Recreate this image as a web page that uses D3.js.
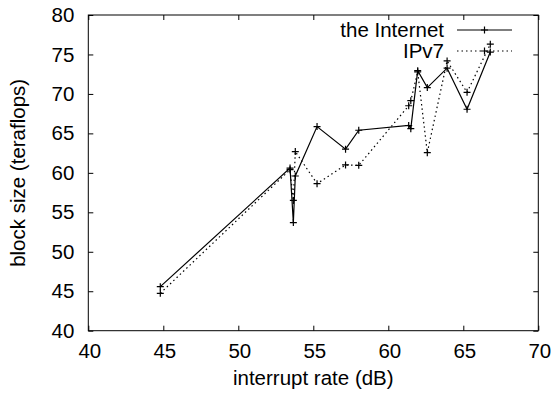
<!DOCTYPE html>
<html>
<head>
<meta charset="utf-8">
<script src="https://cdn.jsdelivr.net/npm/d3@7"></script>
<style>
  body { margin: 0; background: #fff; }
  text { font-family: "Liberation Sans", Arial, sans-serif; fill: #000; }
</style>
</head>
<body>
<div id="chart"></div>
<script>
// data
var rateX = [44.8, 53.45, 53.67, 53.8, 55.25, 57.15, 58.03, 61.36, 61.5, 61.96, 62.6, 63.92, 65.25, 66.8];
var internetY = [45.58, 60.6, 53.7, 59.6, 65.86, 63.0, 65.4, 66.0, 65.6, 72.95, 70.8, 73.26, 68.06, 75.3];
var ipv7Y = [44.74, 60.4, 56.5, 62.7, 58.63, 61.0, 60.95, 68.5, 69.15, 72.8, 62.56, 74.18, 70.2, 76.3];
var seriesNames = ["the Internet", "IPv7"];
var xTicks = [40, 45, 50, 55, 60, 65, 70];
var yTicks = [40, 45, 50, 55, 60, 65, 70, 75, 80];

var width = 554, height = 394;
var margin = {left: 88.3, right: 15.7, top: 15, bottom: 63.3};
var fontSize = "20.5px";

var svg = d3.select("#chart")
    .append("svg")
    .attr("width", width)
    .attr("height", height);

var x = d3.scaleLinear().domain([40, 70]).range([margin.left, width - margin.right]);
var y = d3.scaleLinear().domain([40, 80]).range([height - margin.bottom, margin.top]);

// ticks on all four sides, pointing inward
svg.append("g")
    .attr("transform", "translate(0," + y(40) + ")")
    .call(d3.axisBottom(x).tickValues(xTicks).tickSizeInner(-5).tickSizeOuter(0).tickPadding(12))
    .call(g => g.select(".domain").remove())
    .selectAll("text").style("font-size", fontSize).attr("dy", "0.75em").attr("dx", "1");

svg.append("g")
    .attr("transform", "translate(0," + y(80) + ")")
    .call(d3.axisTop(x).tickValues(xTicks).tickSizeInner(-5).tickSizeOuter(0).tickFormat(""))
    .call(g => g.select(".domain").remove());

svg.append("g")
    .attr("transform", "translate(" + x(40) + ",0)")
    .call(d3.axisLeft(y).tickValues(yTicks).tickSizeInner(-5).tickSizeOuter(0).tickPadding(14))
    .call(g => g.select(".domain").remove())
    .selectAll("text").style("font-size", fontSize);

svg.append("g")
    .attr("transform", "translate(" + x(70) + ",0)")
    .call(d3.axisRight(y).tickValues(yTicks).tickSizeInner(-5).tickSizeOuter(0).tickFormat(""))
    .call(g => g.select(".domain").remove());

svg.selectAll(".tick line").attr("stroke", "#000");

// frame
svg.append("rect")
    .attr("x", x(40))
    .attr("y", y(80))
    .attr("width", x(70) - x(40))
    .attr("height", y(40) - y(80))
    .attr("fill", "none")
    .attr("stroke", "#000")
    .attr("stroke-width", 1);

// axis titles
svg.append("text")
    .attr("x", (x(40) + x(70)) / 2)
    .attr("y", 385)
    .attr("text-anchor", "middle")
    .style("font-size", fontSize)
    .text("interrupt rate (dB)");

svg.append("text")
    .attr("transform", "translate(25," + ((y(40) + y(80)) / 2) + ") rotate(-90)")
    .attr("text-anchor", "middle")
    .style("font-size", fontSize)
    .text("block size (teraflops)");

// series
var series = [
    {name: seriesNames[0], values: internetY, dash: null},
    {name: seriesNames[1], values: ipv7Y, dash: "1.5,3"}
];

var line = d3.line()
    .x((d, i) => x(rateX[i]))
    .y(d => y(d));

function plus(g, cx, cy) {
    g.append("path")
        .attr("d", "M" + (cx - 3.5) + "," + cy + "h7M" + cx + "," + (cy - 3.5) + "v7")
        .attr("stroke", "#000")
        .attr("stroke-width", 1.2);
}

series.forEach((s, k) => {
    var g = svg.append("g");
    g.append("path")
        .datum(s.values)
        .attr("d", line)
        .attr("fill", "none")
        .attr("stroke", "#000")
        .attr("stroke-width", 1.2)
        .attr("stroke-dasharray", s.dash);
    s.values.forEach((v, i) => plus(g, x(rateX[i]), y(v)));

    // legend entry
    var ly = 30 + k * 21;
    svg.append("text")
        .attr("x", 444)
        .attr("y", ly)
        .attr("text-anchor", "end")
        .attr("dy", "0.35em")
        .style("font-size", fontSize)
        .text(s.name);
    svg.append("line")
        .attr("x1", 457).attr("x2", 512)
        .attr("y1", ly).attr("y2", ly)
        .attr("stroke", "#000")
        .attr("stroke-width", 1.2)
        .attr("stroke-dasharray", s.dash);
    plus(svg, 484.5, ly);
});
</script>
</body>
</html>
